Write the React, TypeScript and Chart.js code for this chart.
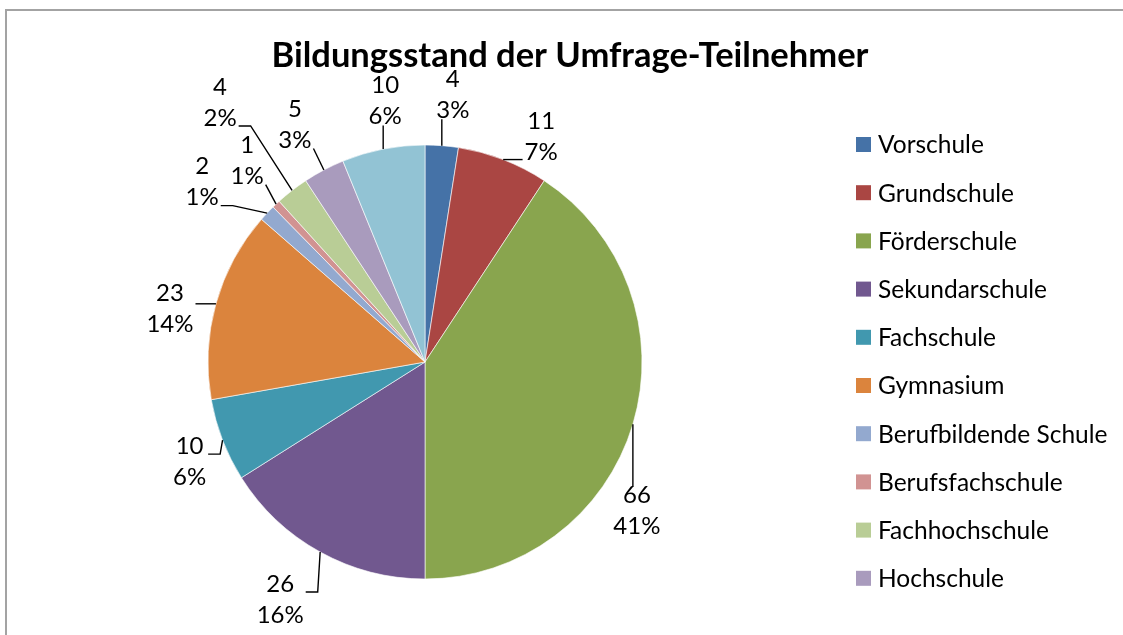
import React, { useEffect, useRef } from "react";
import { Chart, registerables } from "chart.js";

Chart.register(...registerables);

// ---- data ----
const categories = [
  "Vorschule",
  "Grundschule",
  "Förderschule",
  "Sekundarschule",
  "Fachschule",
  "Gymnasium",
  "Berufbildende Schule",
  "Berufsfachschule",
  "Fachhochschule",
  "Hochschule",
  "Universität",
];
const counts = [4, 11, 66, 26, 10, 23, 2, 1, 4, 5, 10];
const percentTexts = ["3%", "7%", "41%", "16%", "6%", "14%", "1%", "1%", "2%", "3%", "6%"];
const legendVisibleCount = 10;
const chartTitle = "Bildungsstand der Umfrage-Teilnehmer";

// ---- styles / layout ----
const sliceColors = [
  "#4572A7",
  "#AA4643",
  "#89A54E",
  "#71588F",
  "#4198AF",
  "#DB843D",
  "#93A9CF",
  "#D19392",
  "#B9CD96",
  "#A99BBD",
  "#92C3D4",
];
// label block centre offset from the slice's outer mid point
const labelOffsets: [number, number][] = [
  [11, -51],
  [38, -23],
  [4, 87],
  [-40, 48],
  [-33, 22],
  [-46, 5],
  [-65, -31],
  [-29, -43],
  [-72, -88],
  [-29, -45],
  [2, -48],
];
const FONT = "Lato, 'Open Sans', sans-serif";
const W = 1123;
const H = 635;

const decorPlugin = {
  id: "decor",
  beforeDraw(chart: any) {
    const ctx = chart.ctx;
    ctx.save();
    ctx.fillStyle = "#ffffff";
    ctx.fillRect(0, 0, chart.width, chart.height);
    ctx.strokeStyle = "#a3a3a3";
    ctx.lineWidth = 2;
    ctx.strokeRect(6, 10, chart.width + 50, chart.height + 50);
    ctx.restore();
  },
  afterDraw(chart: any) {
    const ctx = chart.ctx;
    ctx.save();
    // title
    ctx.fillStyle = "#000";
    ctx.font = `bold 34.5px ${FONT}`;
    ctx.textAlign = "center";
    ctx.textBaseline = "alphabetic";
    ctx.fillText(chartTitle, 570, 67);

    // legend
    const labels = chart.data.labels as string[];
    const colors = chart.data.datasets[0].backgroundColor as string[];
    ctx.font = `24.5px ${FONT}`;
    ctx.textAlign = "left";
    ctx.textBaseline = "middle";
    for (let i = 0; i < Math.min(legendVisibleCount, labels.length); i++) {
      const cy = 144.5 + i * 48.2;
      ctx.fillStyle = colors[i];
      ctx.fillRect(856, cy - 7.5, 15, 15);
      ctx.fillStyle = "#000";
      ctx.fillText(labels[i], 878, cy + 1);
    }

    // data labels with leader lines
    const meta = chart.getDatasetMeta(0);
    const data = chart.data.datasets[0].data as number[];
    const lineGap = 31;
    meta.data.forEach((arc: any, i: number) => {
      const p = arc.getProps(["x", "y", "startAngle", "endAngle", "outerRadius"], true);
      const mid = (p.startAngle + p.endAngle) / 2;
      const axp = p.x + Math.cos(mid) * p.outerRadius;
      const ayp = p.y + Math.sin(mid) * p.outerRadius;
      const [dx, dy] = labelOffsets[i];
      const cx = axp + dx;
      const cy = ayp + dy;
      const l1 = String(data[i]);
      const l2 = percentTexts[i];
      ctx.font = `24px ${FONT}`;
      const w = Math.max(ctx.measureText(l1).width, ctx.measureText(l2).width);
      const left = cx - w / 2 - 2;
      const right = cx + w / 2 + 2;
      const top = cy - lineGap / 2 - 9;
      const bottom = cy + lineGap / 2 + 9;
      const ax = Math.min(Math.max(axp, left), right);
      const onSide = ax === left || ax === right;
      const ay = onSide
        ? Math.min(Math.max(ayp, cy - 8), bottom - 1)
        : Math.min(Math.max(ayp, top), bottom);
      const pts: [number, number][] = [[ax, ay]];
      if (ax === right && axp - right > 12) pts.push([right + 12, ay]);
      else if (ax === left && left - axp > 12) pts.push([left - 12, ay]);
      pts.push([axp, ayp]);
      ctx.strokeStyle = "#000";
      ctx.lineWidth = 1.4;
      ctx.beginPath();
      ctx.moveTo(pts[0][0], pts[0][1]);
      for (let k = 1; k < pts.length; k++) ctx.lineTo(pts[k][0], pts[k][1]);
      ctx.stroke();

      ctx.fillStyle = "#000";
      ctx.textAlign = "center";
      ctx.textBaseline = "middle";
      ctx.fillText(l1, cx, cy - lineGap / 2);
      ctx.fillText(l2, cx, cy + lineGap / 2);
    });
    ctx.restore();
  },
};

export default function App() {
  const ref = useRef<HTMLCanvasElement | null>(null);
  useEffect(() => {
    document.body.style.margin = "0";
    const canvas = ref.current!;
    const chart = new Chart(canvas, {
      type: "pie",
      data: {
        labels: categories,
        datasets: [
          {
            data: counts,
            backgroundColor: sliceColors,
            borderColor: "rgba(255,255,255,0.6)",
            borderWidth: 1,
            radius: 217,
          } as any,
        ],
      },
      options: {
        responsive: false,
        animation: false,
        devicePixelRatio: 1,
        layout: { padding: { left: 150, right: W - 700, top: 132, bottom: H - 592 } },
        plugins: {
          legend: { display: false },
          title: { display: false },
          tooltip: { enabled: false },
        },
        events: [],
      },
      plugins: [decorPlugin],
    });
    return () => chart.destroy();
  }, []);
  return (
    <div style={{ position: "absolute", left: 0, top: 0, width: W, height: H, background: "#fff" }}>
      <canvas ref={ref} width={W} height={H} />
    </div>
  );
}
